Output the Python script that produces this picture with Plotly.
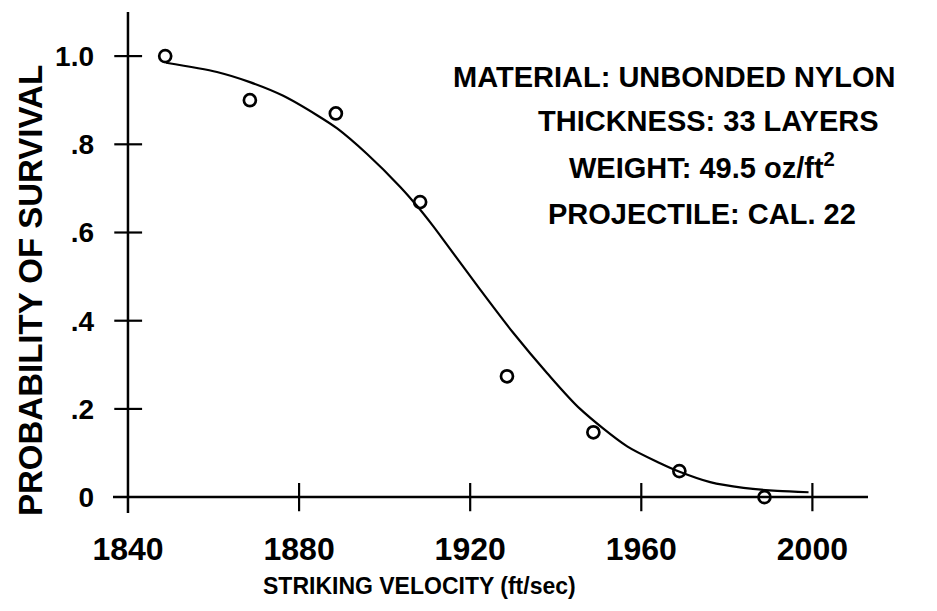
import plotly.graph_objects as go

# Observed data points
vel_pts = [1848.7, 1868.5, 1888.6, 1908.3, 1928.6, 1948.8, 1968.9, 1988.8]
surv_pts = [1.0, 0.90, 0.87, 0.669, 0.274, 0.147, 0.059, 0.0]

# Fitted curve
vel_curve = [1848.9, 1860.8, 1868.5, 1876.3, 1884.2, 1888.9, 1895.9, 1903.6, 1907.6,
             1911.3, 1914.6, 1922.3, 1930.1, 1938.0, 1945.7, 1956.7, 1964.4, 1969.1,
             1976.1, 1983.9, 1991.8, 1999.1]
surv_curve = [0.985, 0.964, 0.941, 0.910, 0.866, 0.836, 0.778, 0.704, 0.660,
              0.615, 0.572, 0.471, 0.372, 0.281, 0.200, 0.115, 0.077, 0.057,
              0.034, 0.021, 0.014, 0.011]

x_ticks = [1840, 1880, 1920, 1960, 2000]
x_ticktext = ["1840", "1880", "1920", "1960", "2000"]
y_ticks = [0, 0.2, 0.4, 0.6, 0.8, 1.0]
y_ticktext = ["0", ".2", ".4", ".6", ".8", "1.0"]

info_lines = ["MATERIAL: UNBONDED NYLON", "THICKNESS: 33 LAYERS",
              "WEIGHT: 49.5 oz/ft<sup>2</sup>", "PROJECTILE: CAL. 22"]

FONT = "Liberation Sans"
X0, X1 = 1836.5, 2013
Y0, Y1 = -0.036, 1.10

fig = go.Figure()
fig.add_trace(go.Scatter(x=vel_curve, y=surv_curve, mode="lines",
                         line=dict(color="black", width=2.2, shape="spline", smoothing=0.8),
                         hoverinfo="skip", showlegend=False))
fig.add_trace(go.Scatter(x=vel_pts, y=surv_pts, mode="markers",
                         marker=dict(symbol="circle-open", size=12, color="black",
                                     line=dict(width=2.7, color="black")),
                         showlegend=False))

shapes = []
# axis lines
shapes.append(dict(type="line", xref="x", yref="y", x0=X0, x1=X1, y0=0, y1=0,
                   line=dict(color="black", width=2.5)))
shapes.append(dict(type="line", xref="x", yref="y", x0=1840, x1=1840, y0=Y0, y1=Y1,
                   line=dict(color="black", width=2.5)))
# cross ticks
for v in x_ticks[1:]:
    shapes.append(dict(type="line", xref="x", yref="y", x0=v, x1=v, y0=-0.032, y1=0.032,
                       line=dict(color="black", width=2.2)))
for v in y_ticks[1:]:
    shapes.append(dict(type="line", xref="x", yref="y", x0=1836.8, x1=1843.3, y0=v, y1=v,
                       line=dict(color="black", width=2.2)))

L, R, T, B = 113, 69, 12, 98
W, H = 937, 611
pw, ph = W - L - R, H - T - B

def px(x):
    return (x - L) / pw

def py(y):
    return (H - B - y) / ph

annotations = []
info_pos = [(674, 77), (708, 121), (702, 166), (702, 214)]
for txt, (ax, ay) in zip(info_lines, info_pos):
    annotations.append(dict(text="<b>" + txt + "</b>", xref="paper", yref="paper",
                            x=px(ax), y=py(ay), xanchor="center", yanchor="middle",
                            showarrow=False, font=dict(family=FONT, size=29, color="black")))
annotations.append(dict(text="<b>STRIKING VELOCITY (ft/sec)</b>", xref="paper", yref="paper",
                        x=px(419), y=py(586), xanchor="center", yanchor="middle",
                        showarrow=False, font=dict(family=FONT, size=23, color="black")))
annotations.append(dict(text="<b>PROBABILITY OF SURVIVAL</b>", xref="paper", yref="paper",
                        x=px(30), y=py(291), xanchor="center", yanchor="middle", textangle=-90,
                        showarrow=False, font=dict(family=FONT, size=33, color="black")))

fig.update_layout(
    width=W, height=H,
    margin=dict(l=L, r=R, t=T, b=B, autoexpand=False),
    paper_bgcolor="white", plot_bgcolor="white",
    font=dict(family=FONT, color="black"),
    shapes=shapes, annotations=annotations,
    xaxis=dict(range=[X0, X1], showgrid=False, zeroline=False, showline=False,
               automargin=False,
               tickmode="array", tickvals=x_ticks,
               ticktext=["<b>" + t + "</b>" for t in x_ticktext],
               ticks="", ticklabelstandoff=14,
               tickfont=dict(family=FONT, size=32, color="black")),
    yaxis=dict(range=[Y0, Y1], showgrid=False, zeroline=False, showline=False,
               automargin=False,
               tickmode="array", tickvals=y_ticks,
               ticktext=["<b>" + t + "</b>" for t in y_ticktext],
               ticks="", ticklabelstandoff=18,
               tickfont=dict(family=FONT, size=28, color="black")),
)

fig.write_html("out.html", config={"displayModeBar": False},
               post_script="document.body.style.margin='0';document.body.style.overflow='hidden';")
